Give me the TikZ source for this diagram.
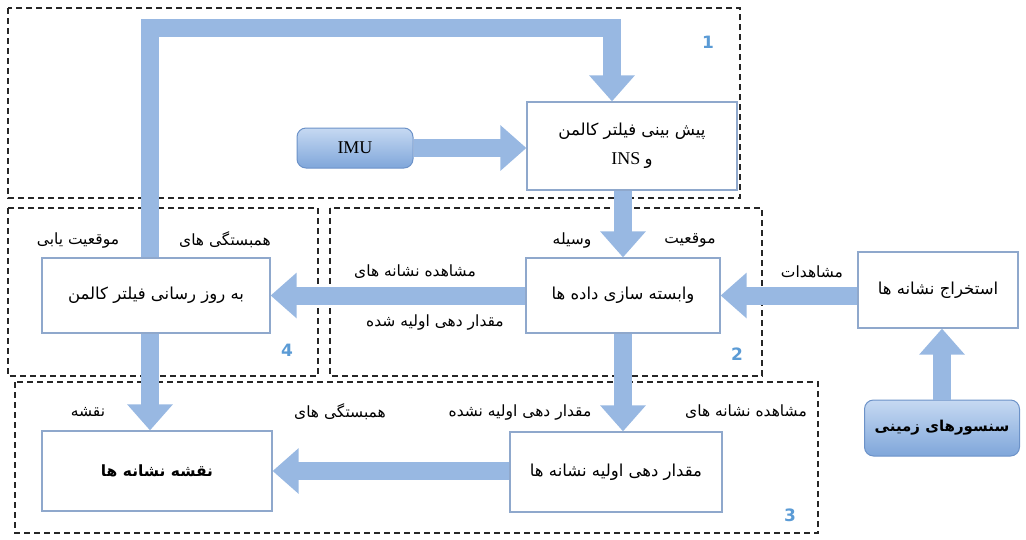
\documentclass[tikz,border=0pt]{standalone}
\usepackage{fontspec}
\setmainfont{Liberation Serif}
\newfontfamily\arf[Script=Arabic]{DejaVu Sans}
\newfontfamily\numf{DejaVu Sans}
\TeXXeTstate=1
\usetikzlibrary{arrows.meta}
\definecolor{arrowc}{HTML}{98B8E2}
\definecolor{boxedge}{HTML}{8FA8CC}
\definecolor{pilltop}{HTML}{C6D9F2}
\definecolor{pillbot}{HTML}{7FA6DA}
\definecolor{pilledge}{HTML}{6C92C8}
\definecolor{numc}{HTML}{5B9BD5}
\newcommand\AR[1]{{\arf\beginR #1\endR}}
\tikzset{
  box/.style={draw=boxedge, line width=1.2pt, fill=white, inner sep=0pt, align=center},
  pill/.style={draw=pilledge, line width=1pt, rounded corners=9pt, top color=pilltop, bottom color=pillbot, inner sep=0pt},
  region/.style={draw=black!85, line width=1.3pt, dash pattern=on 6pt off 4pt},
  bigarrow/.style={draw=arrowc, line width=18pt, line join=miter, -{Triangle[width=44pt,length=26pt]}},
  lbl/.style={inner sep=0pt, font=\fontsize{15.5}{18}\selectfont},
  num/.style={inner sep=0pt, text=numc, font=\numf\bfseries\fontsize{17}{19}\selectfont}
}
\begin{document}
\begin{tikzpicture}[x=1pt, y=-1pt, font=\fontsize{16.5}{20}\selectfont]
\useasboundingbox (0,0) rectangle (1026,539);
% dashed regions
\draw[region] (8,8) rectangle (740,198);
\draw[region] (8,208) rectangle (318,376);
\draw[region] (330,208) rectangle (762,376);
\draw[region] (15,382) rectangle (818,533);
% boxes
\node[box, minimum width=210, minimum height=88] (pred) at (632,146)
  {\AR{پیش بینی فیلتر کالمن}\\[9pt] \beginR{\arf و} {\fontsize{18}{20}\selectfont INS}\endR};
\node[pill, minimum width=116, minimum height=40] (imu) at (355,148) {\fontsize{18}{20}\selectfont IMU};
\node[box, minimum width=194, minimum height=75] (assoc) at (623,295.5) {\AR{وابسته سازی داده ها}};
\node[box, minimum width=228, minimum height=75] (update) at (156,295.5) {\AR{به روز رسانی فیلتر کالمن}};
\node[box, minimum width=160, minimum height=76] (extract) at (938,290) {\AR{استخراج نشانه ها}};
\node[pill, minimum width=155, minimum height=56] (ground) at (942,428) {\fontsize{15}{18}\selectfont\bfseries\AR{سنسورهای زمینی}};
\node[box, minimum width=212, minimum height=80] (init) at (616,472) {\AR{مقدار دهی اولیه نشانه ها}};
\node[box, minimum width=230, minimum height=80] (map) at (157,471) {\fontsize{15.5}{18}\selectfont\bfseries\AR{نقشه نشانه ها}};
% labels
\node[lbl] (l1) at (690,240) {\AR{موقعیت}};
\node[lbl] (l2) at (572,240) {\AR{وسیله}};
\node[lbl] (l3) at (225,240) {\AR{همبستگی های}};
\node[lbl] (l4) at (78,240) {\AR{موقعیت یابی}};
\node[lbl] (l5) at (415,272) {\AR{مشاهده نشانه های}};
\node[lbl] (l6) at (435,322) {\AR{مقدار دهی اولیه شده}};
\node[lbl] (l7) at (812,272) {\AR{مشاهدات}};
\node[lbl] (l8) at (340,412) {\AR{همبستگی های}};
\node[lbl] (l9) at (88,412) {\AR{نقشه}};
\node[lbl] (l10) at (746,412) {\AR{مشاهده نشانه های}};
\node[lbl] (l11) at (520,412) {\AR{مقدار دهی اولیه نشده}};
% numbers
\node[num] (n1) at (708,42) {1};
\node[num] (n2) at (737,354) {2};
\node[num] (n3) at (790,515) {3};
\node[num] (n4) at (287,350) {4};
% connectors
\coordinate (fb1) at (150,28);
\coordinate (fb2) at (612,28);
\draw[bigarrow] (update.north -| fb1) -- (fb1) -- (fb2) -- (pred.north -| fb2);
\draw[bigarrow] (imu.east) -- (pred.west |- imu.east);
\draw[bigarrow] (pred.south -| assoc.north) -- (assoc.north);
\draw[bigarrow] (assoc.west) -- (update.east);
\draw[bigarrow] (extract.west |- assoc.east) -- (assoc.east);
\draw[bigarrow] (ground.north) -- (ground.north |- extract.south);
\draw[bigarrow] (assoc.south) -- (assoc.south |- init.north);
\draw[bigarrow] (init.west |- map.east) -- (map.east);
\draw[bigarrow] (update.south -| fb1) -- (map.north -| fb1);
\end{tikzpicture}
\end{document}
